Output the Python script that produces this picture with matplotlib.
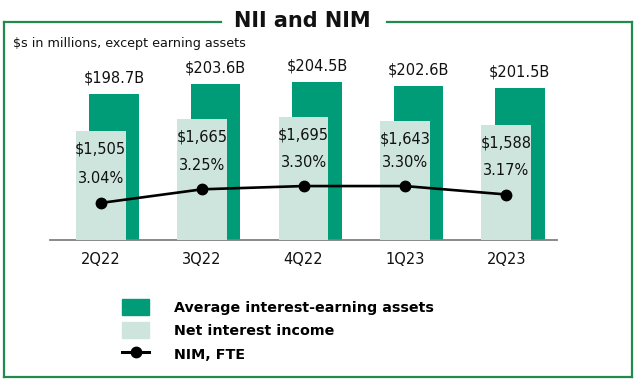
import matplotlib
matplotlib.use("Agg")
import matplotlib.pyplot as plt
from matplotlib.lines import Line2D
from matplotlib.patches import Patch
import numpy as np

plt.rcParams['font.family'] = ['DejaVu Sans']

# data
quarters = ['2Q22', '3Q22', '4Q22', '1Q23', '2Q23']
avg_assets = [198.7, 203.6, 204.5, 202.6, 201.5]   # $B
nii = [1505, 1665, 1695, 1643, 1588]               # $M
nim = [3.04, 3.25, 3.30, 3.30, 3.17]               # %

dark_green = '#009b77'
light_green = '#cde5dc'
frame_green = '#1f8b4c'
text_col = '#111111'

fig = plt.figure(figsize=(6.4, 3.87), dpi=100)
W, H = 640, 387

# plot area: x 50..557 px, y 40..240 px
ax = fig.add_axes([50 / W, (H - 240) / H, 507 / W, 200 / H])
ax_nii = ax.twinx()
ax_nim = ax.twinx()

x = np.arange(len(quarters))
bar_w = 0.49
shift = 0.133

# average interest-earning assets (back)
ax.bar(x + shift, avg_assets, width=bar_w, color=dark_green, zorder=1)
ax.set_ylim(128.3, 224.9)
for xi, v in zip(x, avg_assets):
    ax.annotate(f'${v:.1f}B', (xi + shift, v), xytext=(0, 16), textcoords='offset pixels',
                ha='center', va='center', fontsize=10.5, color=text_col)

# net interest income (front)
ax_nii.bar(x, nii, width=bar_w, color=light_green, zorder=1)
ax_nii.set_ylim(0, 2750)
for xi, v in zip(x, nii):
    ax_nii.annotate(f'${v:,}', (xi, v), xytext=(0, -18), textcoords='offset pixels',
                    ha='center', va='center', fontsize=10.5, color=text_col)

# NIM line
ax_nim.plot(x, nim, color='black', lw=1.9, marker='o', markersize=7.5)
ax_nim.set_ylim(2.47, 5.547)
for xi, v in zip(x, nim):
    ax_nim.annotate(f'{v:.2f}%', (xi, v), xytext=(0, 24), textcoords='offset pixels',
                    ha='center', va='center', fontsize=10.5, color=text_col)

for a in (ax, ax_nii, ax_nim):
    a.set_xlim(-0.5, 4.5)
    for s in a.spines.values():
        s.set_visible(False)
    a.set_yticks([])
ax.spines['bottom'].set_visible(True)
ax.spines['bottom'].set_color('#808080')
ax.spines['bottom'].set_linewidth(1.3)
ax.spines['bottom'].set_zorder(5)
ax.set_xticks(x)
ax.set_xticklabels(quarters, fontsize=10.5, color=text_col)
ax.tick_params(axis='x', length=0, pad=9)

# title + subtitle
fig.text(302 / W, 1 - 21 / H, 'NII and NIM', ha='center', va='center',
         fontsize=15, fontweight='bold', color=text_col)
fig.text(13 / W, 1 - 44 / H, '$s in millions, except earning assets', ha='left', va='center',
         fontsize=9.2, color=text_col)

# green frame around the panel
def fline(xs, ys):
    fig.add_artist(Line2D([v / W for v in xs], [1 - v / H for v in ys],
                          color=frame_green, lw=1.6, transform=fig.transFigure))

fline([3.5, 221], [21.5, 21.5])
fline([387, 632], [21.5, 21.5])
fline([3.5, 3.5], [21.5, 377])
fline([632, 632], [21.5, 377])
fline([3.5, 632], [377, 377])

# legend
handles = [Patch(color=dark_green), Patch(color=light_green),
           Line2D([], [], color='black', lw=2.2, marker='o', markersize=7.5)]
labels = ['Average interest-earning assets', 'Net interest income', 'NIM, FTE']
fig.legend(handles, labels, loc='upper left', bbox_to_anchor=(122 / W, 1 - 299 / H),
           frameon=False, borderpad=0, borderaxespad=0, handlelength=1.9, handleheight=1.3,
           labelspacing=0.55, handletextpad=1.7,
           prop={'size': 10.3, 'weight': 'bold'})

fig.savefig('out.png', dpi=100)
